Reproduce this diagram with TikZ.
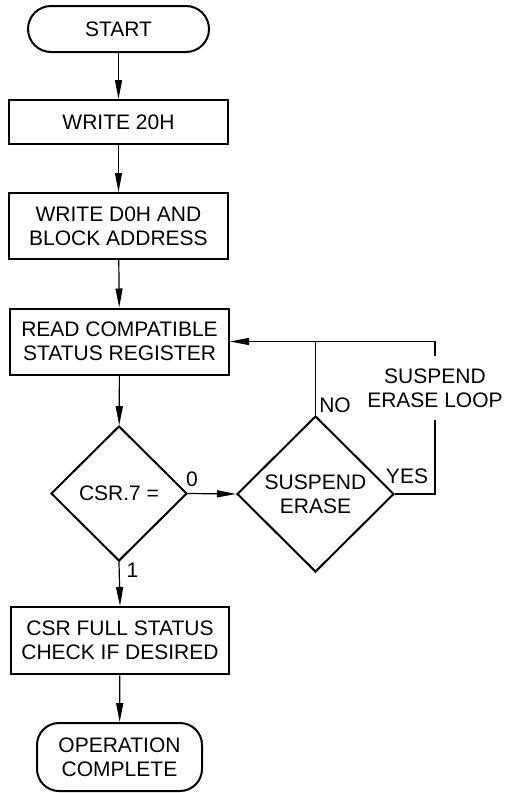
\documentclass[tikz,border=0pt]{standalone}
\usepackage{fontspec}
\setmainfont{Liberation Sans}
\usetikzlibrary{shapes.geometric,arrows.meta}
\begin{document}
\begin{tikzpicture}[x=1pt,y=-1pt,
  every node/.style={font=\fontsize{21}{24}\selectfont, align=center, inner sep=0pt},
  box/.style={draw, line width=2pt, rectangle, minimum width=219pt},
  term/.style={draw, line width=2pt, rectangle},
  dec/.style={draw, line width=2pt, diamond},
  conn/.style={line width=1.2pt},
  arr/.style={conn, -{Triangle[length=19pt,width=7pt]}},
  lbl/.style={font=\fontsize{21}{24}\selectfont}
]
\useasboundingbox (0,0) rectangle (506,793);
\node[term, rounded corners=23pt, minimum width=181pt, minimum height=46pt] (start) at (118.5,29) {START};
\node[box, minimum height=44pt] (w20) at (118.5,122) {WRITE 20H};
\node[box, minimum height=66pt] (wd0) at (118.5,226) {WRITE D0H AND\\BLOCK ADDRESS};
\node[box, minimum height=66pt] (read) at (119.5,341.5) {READ COMPATIBLE\\STATUS REGISTER};
\node[dec, minimum width=136pt, minimum height=135pt] (csr) at (119,493.5) {CSR.7 =};
\node[dec, minimum width=157pt, minimum height=156pt] (susp) at (315.5,494) {SUSPEND\\ERASE};
\node[box, minimum width=218pt, minimum height=67pt] (full) at (120,640.5) {CSR FULL STATUS\\CHECK IF DESIRED};
\node[term, rounded corners=22pt, minimum width=165pt, minimum height=68pt] (op) at (119.5,757) {OPERATION\\COMPLETE};
\node[lbl, minimum height=64pt] (loop) at (435,388) {SUSPEND\\ERASE LOOP};
\node[lbl] (l0) at (192,479) {0};
\node[lbl] (l1) at (132.5,570) {1};
\node[lbl] (lno) at (335,405) {NO};
\node[lbl] (lyes) at (407,476) {YES};

\draw[arr] (start) -- (w20);
\draw[arr] (w20) -- (wd0);
\draw[arr] (wd0) -- (read);
\draw[arr] (read) -- (csr);
\draw[arr] (csr.east) -- (susp.west);
\draw[arr] (csr.south) -- (full.north);
\draw[arr] (full) -- (op);
\draw[conn] (susp.east) -| (loop.south);
\draw[arr] (loop.north) |- (read.east);
\draw[conn] (susp.north) -- (susp.north |- read.east);
\end{tikzpicture}
\end{document}
